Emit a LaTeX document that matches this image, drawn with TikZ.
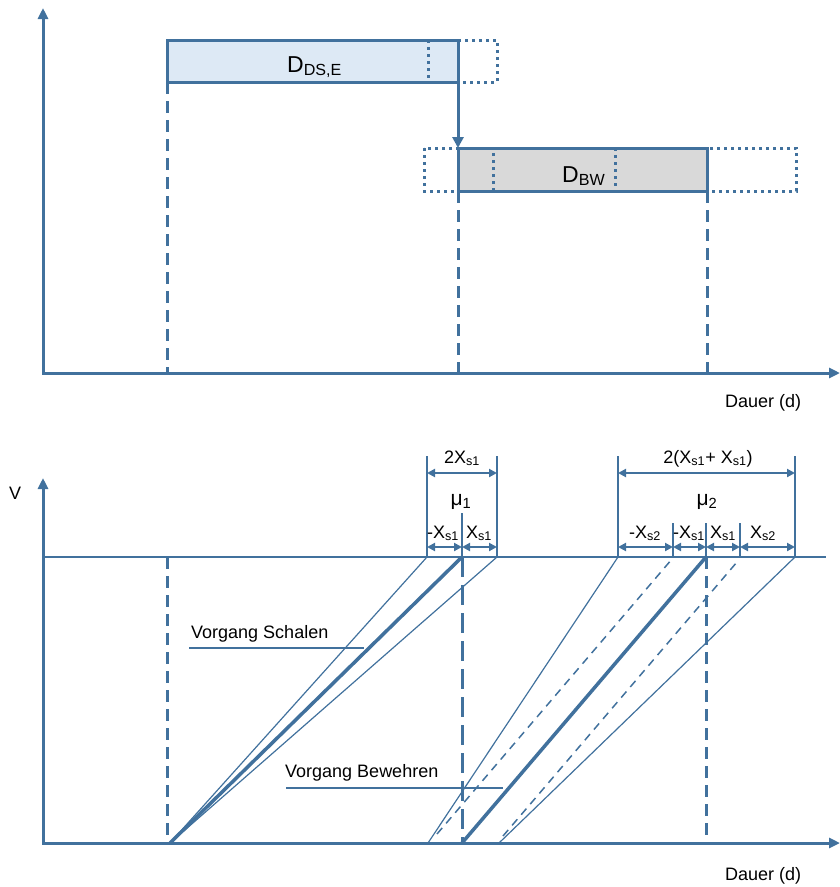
\documentclass[tikz,border=0pt]{standalone}
\usepackage{fontspec}
\setmainfont{Liberation Sans}
\usetikzlibrary{arrows.meta}
\definecolor{chartblue}{RGB}{65,113,157}
\definecolor{boxblue}{RGB}{221,233,245}
\definecolor{boxgray}{RGB}{217,217,217}

\begin{document}
\begin{tikzpicture}
[x=1pt,y=-1pt,
every node/.style={font=\fontsize{18}{20}\selectfont,inner sep=0pt},
big/.style={font=\fontsize{23}{26}\selectfont},
mu/.style={font=\fontsize{21}{24}\selectfont},
axis/.style={draw=chartblue,line width=3pt,{Triangle[length=11pt,width=10pt]}-{Triangle[length=11pt,width=10pt]}},
bar/.style={draw=chartblue,line width=3pt},
dotbox/.style={draw=chartblue,line width=3pt,dash pattern=on 3pt off 4pt},
guide/.style={draw=chartblue,line width=3pt,dash pattern=on 12pt off 7pt},
thin/.style={draw=chartblue,line width=1.2pt},
mean/.style={draw=chartblue,line width=3.5pt},
spread/.style={draw=chartblue,line width=1.5pt,dash pattern=on 8pt off 6pt},
dim/.style={draw=chartblue,line width=2pt,{Triangle[length=8pt,width=8pt]}-{Triangle[length=8pt,width=8pt]}}]

\useasboundingbox (0,0) rectangle (840,887);

% upper chart
\coordinate (yt1) at (43,8);
\coordinate (o1) at (43,373);
\coordinate (xr1) at (840,373);
\coordinate (dse-nw) at (167,40);
\coordinate (dse-se) at (458,82);
\coordinate (bw-nw) at (458,148);
\coordinate (bw-se) at (707,191);

\fill[boxblue] (dse-nw) rectangle (dse-se);
\fill[boxgray] (bw-nw) rectangle (bw-se);
\draw[dotbox] (428,40) rectangle (497,82);
\draw[dotbox] (424,148) rectangle (493,191);
\draw[dotbox] (615,148) rectangle (796,191);
\draw[bar] (dse-nw) rectangle (dse-se);
\draw[bar] (bw-nw) rectangle (bw-se);
\node[big,anchor=base west] (dse) at (287,72) {D\textsubscript{DS,E}};
\node[big,anchor=base west] (bw) at (562,182) {D\textsubscript{BW}};

\draw[bar,-{Triangle[length=11pt,width=11pt]}] (dse-se) -- (bw-nw);

\draw[guide] (167,82) -- (167,373);
\draw[guide] (458,191) -- (458,373);
\draw[guide] (707,191) -- (707,373);

\draw[axis] (yt1) -- (o1) -- (xr1);
\node[anchor=base west] (t1) at (725,407) {Dauer (d)};

% lower chart
\coordinate (yt2) at (43,478);
\coordinate (o2) at (43,843);
\coordinate (xr2) at (840,843);
\coordinate (top) at (43,557);
\coordinate (topr) at (826,557);

\draw[thin] (top) -- (topr);
\draw[guide] (167,557) -- (167,843);
\draw[guide,dash pattern=on 20pt off 8pt] (462,557) -- (462,843);
\draw[guide] (706,557) -- (706,843);

% Schalen
\coordinate (s0) at (170,843);
\draw[thin] (s0) -- (427,557);
\draw[thin] (s0) -- (497,557);
\draw[mean] (s0) -- (462,557);

% Bewehren
\draw[thin] (428,843) -- (618,557);
\draw[spread] (437,834) -- (672,559);
\draw[mean] (462,843) -- (706,557);
\draw[spread] (503,836) -- (737,562);
\draw[thin] (499,843) -- (795,557);

\node[anchor=base west] (vs) at (191,638) {Vorgang Schalen};
\draw[thin] (189,648) -- (364,648);
\node[anchor=base west] (vb) at (285,777) {Vorgang Bewehren};
\draw[thin] (286,788) -- (503,788);

% spread of mu 1
\draw[thin] (427,456) -- (427,557);
\draw[thin] (497,456) -- (497,557);
\draw[thin] (462,513) -- (462,557);
\draw[dim] (427,473) -- (497,473);
\draw[dim] (427,547) -- (462,547);
\draw[dim] (462,547) -- (497,547);
\node[anchor=base] (w1) at (462,463) {2X\textsubscript{s1}};
\node[mu,anchor=base] (mu1) at (461,505) {μ\textsubscript{1}};
\node[anchor=base] (a1) at (443,538) {-X\textsubscript{s1}};
\node[anchor=base] (b1) at (479,538) {X\textsubscript{s1}};

% spread of mu 2
\draw[thin] (618,456) -- (618,557);
\draw[thin] (795,456) -- (795,557);
\foreach \x in {673,706,740} \draw[thin] (\x,523) -- (\x,557);
\draw[dim] (618,473) -- (795,473);
\draw[dim] (618,547) -- (673,547);
\draw[dim] (673,547) -- (706,547);
\draw[dim] (706,547) -- (740,547);
\draw[dim] (740,547) -- (795,547);
\node[anchor=base] (w2) at (708,463) {2(X\textsubscript{s1}+ X\textsubscript{s1})};
\node[mu,anchor=base] (mu2) at (707,505) {μ\textsubscript{2}};
\node[anchor=base] (a2) at (645,538) {-X\textsubscript{s2}};
\node[anchor=base] (a3) at (689,538) {-X\textsubscript{s1}};
\node[anchor=base] (b3) at (723,538) {X\textsubscript{s1}};
\node[anchor=base] (b2) at (763,538) {X\textsubscript{s2}};

\draw[axis] (yt2) -- (o2) -- (xr2);
\node[anchor=base west] (v) at (9,499) {V};
\node[anchor=base west] (t2) at (725,880) {Dauer (d)};
\end{tikzpicture}
\end{document}
